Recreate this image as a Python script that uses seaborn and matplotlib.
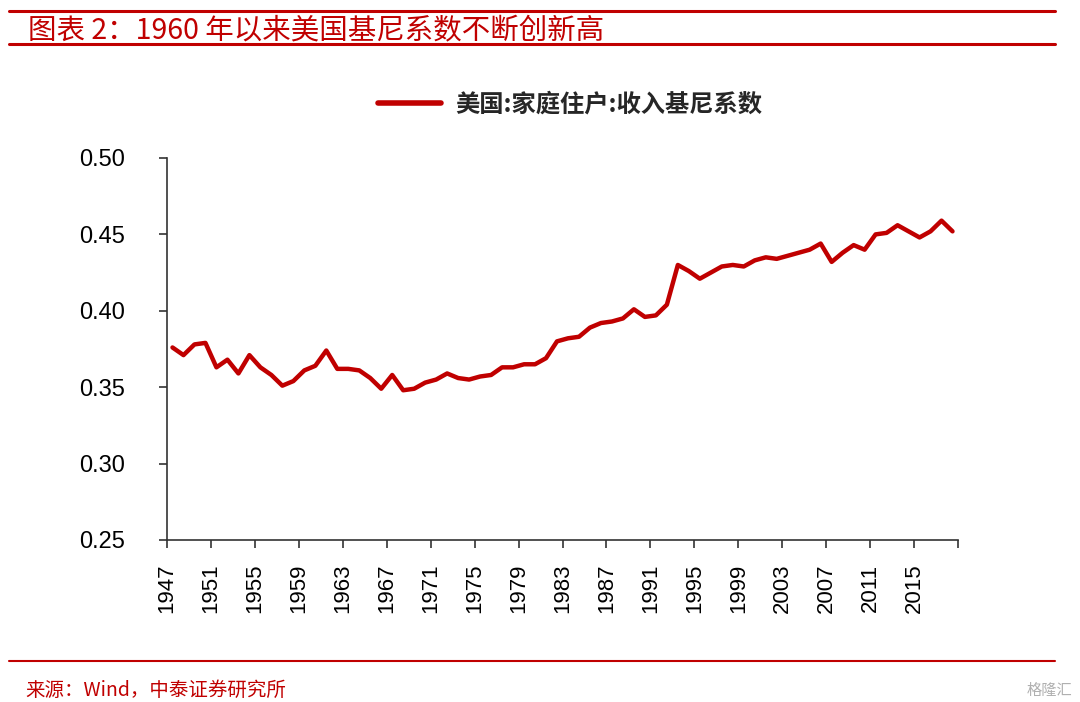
import matplotlib
matplotlib.use("Agg")
import matplotlib.pyplot as plt
import seaborn as sns
import pandas as pd
from matplotlib.lines import Line2D

# 美国家庭住户收入基尼系数 1947-2018
years = list(range(1947, 2019))
gini = [0.376, 0.371, 0.378, 0.379, 0.363, 0.368, 0.359, 0.371, 0.363, 0.358,
        0.351, 0.354, 0.361, 0.364, 0.374, 0.362, 0.362, 0.361, 0.356, 0.349,
        0.358, 0.348, 0.349, 0.353, 0.355, 0.359, 0.356, 0.355, 0.357, 0.358,
        0.363, 0.363, 0.365, 0.365, 0.369, 0.380, 0.382, 0.383, 0.389, 0.392,
        0.393, 0.395, 0.401, 0.396, 0.397, 0.404, 0.430, 0.426, 0.421, 0.425,
        0.429, 0.430, 0.429, 0.433, 0.435, 0.434, 0.436, 0.438, 0.440, 0.444,
        0.432, 0.438, 0.443, 0.440, 0.450, 0.451, 0.456, 0.452, 0.448, 0.452,
        0.459, 0.452]
tick_years = list(range(1947, 2016, 4))
yticks = [0.25, 0.30, 0.35, 0.40, 0.45, 0.50]

title = "图表 2：1960 年以来美国基尼系数不断创新高"
legend_label = "美国:家庭住户:收入基尼系数"
source = "来源：Wind，中泰证券研究所"

red = "#C00000"

sns.set_theme(style="white")
plt.rcParams['font.family'] = ['Noto Sans CJK SC', 'DejaVu Sans']

df = pd.DataFrame({"year": years, "gini": gini})
df["pos"] = df["year"] - years[0] + 0.5

fig = plt.figure(figsize=(10.8, 7.02), dpi=100)
ax = fig.add_axes([167/1080, 1-540/702, (958-167)/1080, (540-158)/702])

sns.lineplot(data=df, x="pos", y="gini", color=red, linewidth=3.2, ax=ax, legend=False)

ax.set_xlim(0, len(years))
ax.set_ylim(0.25, 0.50)
ax.set_xticks([y - years[0] for y in tick_years] + [len(years)])
ax.set_xticklabels([str(y) for y in tick_years] + [""], rotation=90,
                   fontsize=16, family=['Liberation Sans', 'DejaVu Sans'])
ax.set_yticks(yticks)
ax.set_yticklabels(["%.2f" % v for v in yticks], fontsize=17,
                   family=['Liberation Sans', 'DejaVu Sans'])
ax.set_xlabel("")
ax.set_ylabel("")
for s in ["top", "right"]:
    ax.spines[s].set_visible(False)
for s in ["left", "bottom"]:
    ax.spines[s].set_color("#333333")
    ax.spines[s].set_linewidth(1.2)
ax.tick_params(axis="both", direction="out", length=6, width=1.2, color="#333333",
               left=True, bottom=True, labelcolor="black")
ax.tick_params(axis="y", pad=24)
ax.tick_params(axis="x", pad=11)

# legend at top
handle = Line2D([], [], color=red, linewidth=4)
fig.legend([handle], [legend_label], loc="center", bbox_to_anchor=(0.528, 1-105/702),
           frameon=False, handlelength=2.6, handletextpad=0.6,
           prop={'size': 17.5, 'weight': 'bold'})

# header / footer decoration
fig.add_artist(Line2D([9/1080, 1055/1080], [1-11/702, 1-11/702], color=red, linewidth=2.2))
fig.add_artist(Line2D([9/1080, 1055/1080], [1-44/702, 1-44/702], color=red, linewidth=2.2))
fig.add_artist(Line2D([9/1080, 1055/1080], [1-661/702, 1-661/702], color=red, linewidth=1.5))
fig.text(28/1080, 1-30/702, title, color=red, fontsize=20.5, style="italic",
         va="center", ha="left")
fig.text(25/1080, 1-690/702, source, color=red, fontsize=14, va="center", ha="left")
fig.text(1072/1080, 1-690/702, "格隆汇", color="#B0B0B0", fontsize=11,
         va="center", ha="right")

fig.savefig("out.png", dpi=100)
